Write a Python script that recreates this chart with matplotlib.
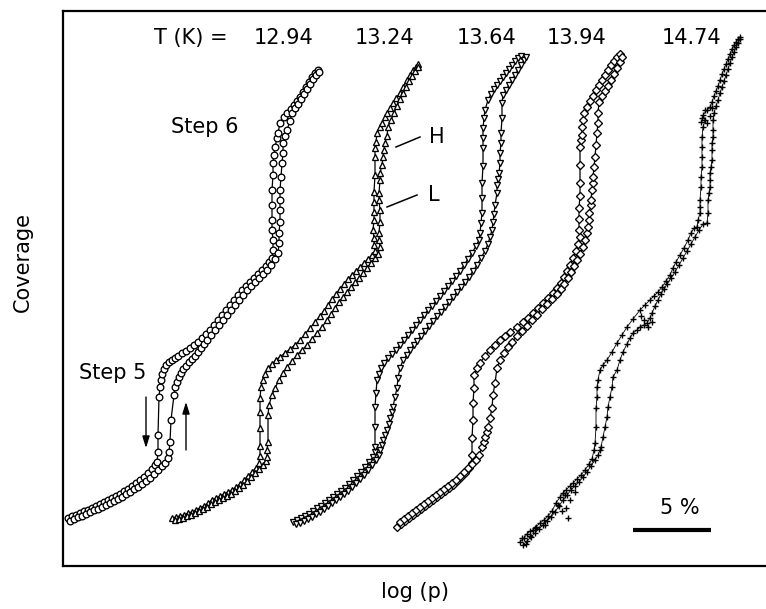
import numpy as np
import matplotlib
matplotlib.use("Agg")
import matplotlib.pyplot as plt

plt.rcParams['font.family'] = ['DejaVu Sans']

# ---- data: (log p [arb. units], coverage [arb. units]) ----
temps = ["12.94", "13.24", "13.64", "13.94", "14.74"]

des_1294 = [(68,48),(72,50),(76,51),(80,53),(84,55),(88,56),(92,58),(96,60),(100,62),(104,64),(108,66),(112,68),(116,70),(120,72),(124,75),(128,77),(132,80),(136,83),(140,86),(144,89),(148,93),(152,97),(155,101),(157,104),
            (158,114),(158,131),(159,169),(160,179),
            (161,186),(162,192),(164,197),(166,201),(169,204),(172,206),(175,208),(178,210),(182,213),(186,215),(190,218),(194,221),(198,224),(202,228),
            (206,232),(210,236),(214,241),(218,246),(222,251),(226,256),(230,261),(234,266),(238,271),(242,276),(246,280),(250,284),(254,288),(258,292),(262,296),(266,300),(269,304),(272,308),
            (273,316),(273,326),(272,336),(272,346),(272,361),(272,376),(273,391),(273,403),(274,411),(275,419),(277,428),(278,433),(280,443),(284,449),(287,453),(291,457),
            (294,461),(297,465),(300,469),(303,474),(306,479),(309,484),(312,489),(315,493),(318,496)]
ads_1294 = [(70,45),(74,47),(78,49),(82,50),(86,52),(90,54),(94,56),(98,57),(102,59),(106,61),(110,63),(114,65),(118,67),(122,69),(126,72),(130,74),(134,77),(138,79),(142,82),(146,85),(150,88),(154,92),(158,96),(162,100),(165,103),
            (168,108),(169,114),(170,124),(171,146),(174,171),(175,179),
            (177,184),(179,189),(181,193),(183,197),(186,200),(189,204),(192,207),(195,210),(198,214),(201,218),(204,222),(207,226),
            (211,231),(215,236),(219,241),(223,246),(227,251),(231,256),(235,261),(239,266),(243,271),(247,276),(251,280),(255,284),(259,288),(263,292),(267,296),(271,301),(275,307),
            (278,313),(279,323),(279,333),(280,344),(280,356),(280,366),(280,376),(281,389),(282,403),(283,413),(283,423),(285,430),(287,436),(290,445),(292,453),(295,458),
            (298,462),(301,467),(304,472),(307,477),(310,482),(313,487),(316,491),(319,494)]

des_1324 = [(172,48),(176,49),(180,50),(184,51),(188,53),(192,54),(196,56),(200,58),(204,60),(208,63),(212,66),(216,68),(220,70),(224,72),(228,74),(232,76),(236,79),(240,82),(244,86),(248,90),(252,94),(256,98),(259,103),
            (260,110),(260,120),(260,138),(260,154),(260,168),(261,179),
            (263,186),(265,192),(268,198),(272,202),(276,206),(280,209),(285,213),(290,217),(295,221),(300,226),(305,232),(310,238),(315,244),(320,250),
            (324,255),(328,261),(332,267),(336,272),(340,277),(344,282),(348,287),(352,291),(356,295),(360,299),(364,303),(368,307),(372,311),(375,315),
            (374,321),(374,328),(373,336),(374,346),(374,354),(374,364),(374,374),(375,391),(375,409),(375,418),(376,424),(377,433),(380,439),(382,443),(385,449),(387,453),(390,458),(393,463),
            (396,468),(400,473),(403,479),(407,486),(410,491),(413,496),(416,499),(418,502)]
ads_1324 = [(175,46),(179,47),(183,48),(187,50),(191,51),(195,53),(199,55),(203,57),(207,59),(211,62),(215,64),(219,66),(223,68),(227,70),(231,72),(235,75),(239,78),(243,81),(247,85),(251,89),(255,93),(259,97),(263,101),(266,105),
            (267,109),(267,116),(268,124),(268,151),(269,161),
            (272,171),(275,178),(279,186),(283,193),(287,199),(292,205),(297,211),(302,216),(307,221),(312,227),(317,233),(322,239),(327,246),
            (331,252),(335,258),(339,264),(343,269),(347,274),(351,279),(355,284),(359,288),(363,293),(367,298),(371,303),(375,308),(378,312),
            (380,319),(379,326),(379,333),(380,344),(380,356),(379,366),(379,373),(380,386),(380,393),(382,401),(383,409),(384,416),(385,423),(387,430),(388,439),(391,446),(394,453),(397,460),
            (400,467),(403,473),(406,479),(409,485),(412,490),(415,495),(418,499)]

des_1364 = [(293,44),(297,46),(301,48),(305,50),(309,52),(313,55),(317,58),(321,60),(325,63),(329,66),(333,69),(337,72),(341,75),(345,78),(349,82),(353,86),(357,90),(361,94),(365,99),(369,104),(373,109),(375,114),
            (375,119),(375,139),(375,159),(376,173),(377,186),
            (379,192),(381,198),(384,203),(388,208),(392,212),(396,216),(400,221),(404,226),(408,231),(412,236),(416,241),(420,246),(424,251),(428,256),(432,260),
            (436,265),(440,270),(444,275),(448,280),(452,285),(456,290),(460,295),(464,301),(468,307),(472,313),(476,320),(479,326),
            (480,333),(481,343),(482,353),(482,368),(482,383),(483,400),(483,418),(483,428),(483,438),(484,448),(485,456),(488,466),
            (491,472),(494,477),(497,481),(500,485),(503,489),(506,493),(509,497),(512,501),(515,505),(518,508),(521,510)]
ads_1364 = [(296,42),(300,43),(304,45),(308,47),(312,49),(316,52),(320,54),(324,57),(328,60),(332,63),(336,66),(340,69),(344,72),(348,75),(352,79),(356,83),(360,87),(364,91),(368,96),(372,101),(376,106),(379,111),
            (380,116),(382,121),(383,126),(385,131),(387,136),(389,142),(390,148),(392,154),(393,159),(395,169),(397,178),(398,188),(400,198),(403,206),
            (407,211),(410,216),(414,221),(417,225),(421,230),(425,235),(429,240),(433,245),(437,250),(441,254),(445,259),
            (449,264),(453,269),(457,274),(461,279),(465,284),(469,289),(473,295),(477,301),(481,308),(485,315),(488,322),(490,329),(492,336),
            (493,344),(494,352),(495,361),(497,373),(497,381),(498,387),(499,393),(500,403),(500,413),(501,423),(501,433),(502,448),(502,463),(503,471),
            (506,476),(509,481),(512,486),(515,491),(518,496),(521,501),(524,506),(526,509)]

des_1394 = [(397,39),(401,42),(405,45),(409,48),(413,51),(417,54),(421,57),(425,60),(429,63),(433,66),(437,69),(441,72),(445,75),(449,78),(453,81),(457,85),(461,89),(465,93),(469,98),(472,103),
            (472,111),(472,128),(473,146),(473,163),(474,178),(474,191),
            (477,198),(480,203),(485,210),(490,216),(495,221),(500,226),(505,230),(510,234),(517,239),(523,244),(528,248),(533,253),(538,258),(543,263),(548,268),(553,273),
            (557,278),(561,283),(564,289),(567,295),(570,301),(573,308),(576,315),(578,322),(580,329),
            (579,336),(579,347),(579,358),(580,370),(580,383),(580,401),(580,419),(581,426),(582,431),(582,439),(583,446),(584,453),
            (587,459),(590,465),(593,470),(596,476),(599,481),(602,486),(605,491),(608,496),(611,501),(614,505),(617,509),(620,512)]
ads_1394 = [(400,44),(404,47),(408,50),(412,53),(416,56),(420,59),(424,62),(428,65),(432,68),(436,71),(440,74),(444,77),(448,80),(452,83),(456,86),(460,90),(464,94),(468,98),(472,102),(476,106),
            (479,111),(482,119),(484,124),(485,129),(487,134),(488,139),(490,148),(492,158),(493,171),(495,183),(497,198),(500,206),
            (504,213),(508,219),(512,224),(517,230),(522,235),(527,240),(532,246),(537,251),(542,257),(547,262),(552,267),(557,272),
            (561,277),(564,282),(568,288),(571,294),(574,300),(577,306),(580,312),(583,319),(585,326),(587,333),(588,339),
            (589,346),(589,353),(591,361),(591,366),(592,376),(593,383),(593,389),(594,399),(595,409),(596,421),(597,433),(598,443),(598,453),(599,464),
            (602,470),(605,475),(608,480),(611,486),(614,492),(617,498),(620,504),(622,509)]

des_1474 = [(520,24),(524,28),(527,32),(530,35),(533,36),(536,39),(540,43),(544,46),(548,50),(552,55),(556,63),(560,69),(563,73),(566,76),(570,80),(573,83),(577,87),(581,91),(585,96),(589,102),(592,107),
            (594,116),(595,123),(596,139),(596,158),(597,169),(597,179),(598,186),
            (600,196),(603,201),(607,206),(612,214),(617,223),(622,231),(627,239),(633,247),(640,256),(645,261),(650,266),
            (654,270),(658,274),(662,279),(666,285),(670,291),(673,298),(676,304),(680,311),(684,318),(688,326),(691,333),(694,338),
            (697,339),(698,346),(700,353),(700,359),(700,366),(701,379),(701,389),(702,399),(702,409),(702,419),(702,429),(703,439),(705,446),(703,451),(707,456),(710,459),
            (712,464),(714,470),(716,475),(718,480),(720,486),(722,492),(724,497),(726,502),(728,507),(730,512),(732,517),(734,521),(736,524),(738,527),(740,529)]
ads_1474 = [(523,21),(527,25),(531,29),(535,33),(539,37),(543,41),(547,45),(551,49),(555,54),(559,60),(563,66),(567,71),(571,76),(575,80),(579,84),(583,89),(587,94),(591,100),(595,106),(598,111),
            (600,116),(601,119),(603,129),(605,139),(607,149),(608,159),(610,169),(612,179),(613,189),(617,196),(620,206),(623,214),
            (627,222),(630,228),(633,233),(637,236),(640,239),(644,241),(647,243),(650,248),(652,253),(655,260),(658,266),
            (661,272),(664,277),(667,282),(671,288),(675,294),(679,301),(683,308),(687,315),(691,322),(695,329),(699,336),(703,342),
            (707,343),(708,353),(708,366),(709,373),(710,379),(710,386),(710,393),(711,399),(712,406),(712,416),(712,423),(713,429),(713,436),(713,446),(714,453),
            (716,460),(718,466),(720,473),(722,479),(724,485),(726,491),(728,497),(730,503),(732,509),(734,514),(736,519),(738,523),(740,527)]
extra_1474 = [(522,28),(526,22),(530,30),(535,38),(545,41),(558,61),(562,55),(566,58),(570,66),(565,71),(575,74),(568,48),
              (644,246),(648,239),(652,244),(641,250),(702,448),(705,456),(707,443),(710,450),(712,458),(701,444)]

# ---- figure ----
W, H = 766, 609
fig = plt.figure(figsize=(W/100, H/100), dpi=100)
ax = fig.add_axes([63/W, 43/H, (778-63)/W, 555/H])
ax.set_xlim(63, 778)
ax.set_ylim(0, 555)
for s in ['left', 'top', 'bottom']:
    ax.spines[s].set_linewidth(1.6)
ax.spines['right'].set_visible(False)
ax.set_xticks([]); ax.set_yticks([])

styles = [dict(marker='o', ms=4.8), dict(marker='^', ms=4.8), dict(marker='v', ms=4.8),
          dict(marker='D', ms=3.6), dict(marker='+', ms=5.0)]
branches = [(des_1294, ads_1294), (des_1324, ads_1324), (des_1364, ads_1364),
            (des_1394, ads_1394), (des_1474, ads_1474)]

for (des, ads), st in zip(branches, styles):
    for br in (des, ads):
        a = np.array(br)
        if st['marker'] == '+':
            ax.plot(a[:, 0], a[:, 1], '-', color='k', lw=0.6, marker='+', ms=st['ms'], mew=1.0)
        else:
            ax.plot(a[:, 0], a[:, 1], '-', color='k', lw=0.9, marker=st['marker'], ms=st['ms'],
                    mfc='white', mec='k', mew=0.95)
e = np.array(extra_1474)
ax.plot(e[:, 0], e[:, 1], ls='none', color='k', marker='+', ms=5.0, mew=1.0)

# ---- annotations ----
fs = 15
ax.text(191, 528, "T (K) =", fontsize=fs, ha='center', va='center')
for t, xc in zip(temps, [284, 385, 487, 577, 692]):
    ax.text(xc, 528, t, fontsize=fs, ha='center', va='center')
ax.text(205, 439, "Step 6", fontsize=fs, ha='center', va='center')
ax.text(113, 193, "Step 5", fontsize=fs, ha='center', va='center')
ax.text(437, 429, "H", fontsize=fs, ha='center', va='center')
ax.text(434, 371, "L", fontsize=fs, ha='center', va='center')
ax.plot([396, 420], [419, 429], color='k', lw=1.1)
ax.plot([387, 417], [359, 371], color='k', lw=1.1)
arrow = dict(arrowstyle='-|>,head_length=0.7,head_width=0.22', color='k', lw=1.0,
             shrinkA=0, shrinkB=0)
ax.annotate("", xy=(146, 118), xytext=(146, 169), arrowprops=arrow)
ax.annotate("", xy=(186, 164), xytext=(186, 116), arrowprops=arrow)
ax.plot([633, 711], [36, 36], color='k', lw=3.0, solid_capstyle='butt')
ax.text(680, 58, "5 %", fontsize=fs, ha='center', va='center')

fig.text(415/W, 1 - 592/H, "log (p)", fontsize=fs, ha='center', va='center')
fig.text(23/W, 1 - 262/H, "Coverage", fontsize=fs, ha='center', va='center', rotation=90)

fig.savefig("out.png", dpi=100)
